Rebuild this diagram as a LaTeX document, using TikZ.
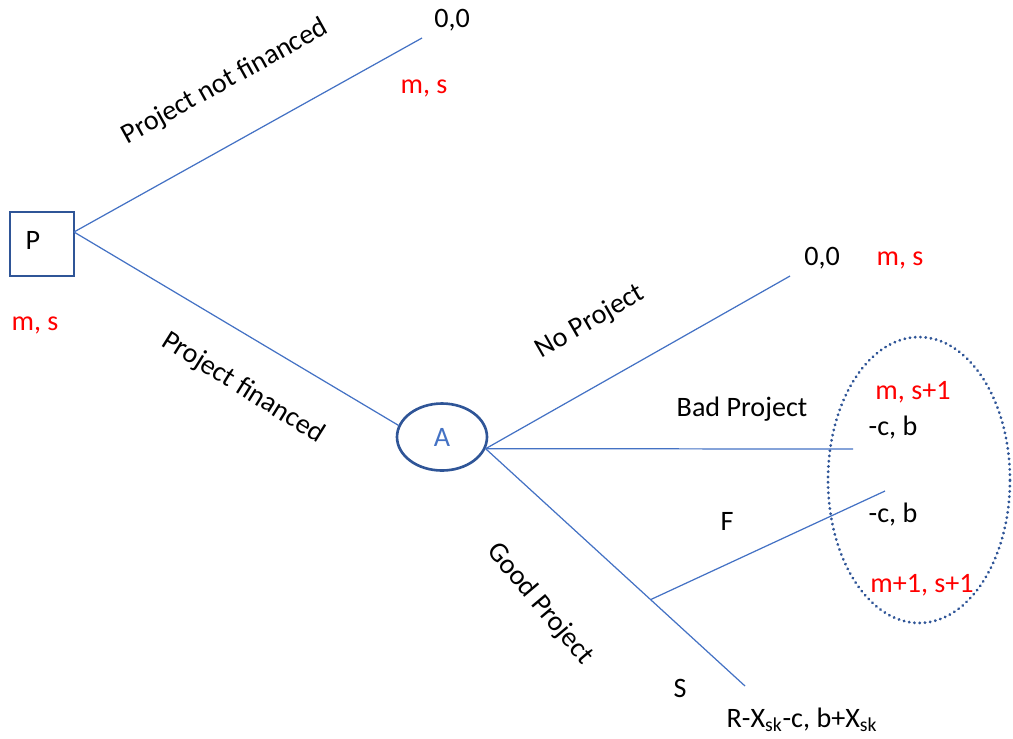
\documentclass[tikz,border=0pt]{standalone}
\usepackage{fontspec}
\setmainfont{Carlito}
\usetikzlibrary{calc,shapes.geometric}
\definecolor{LineClr}{RGB}{68,114,196}
\definecolor{NodeClr}{RGB}{47,85,151}
\definecolor{PayClr}{RGB}{255,0,0}

\tikzset{
  branch/.style={draw=LineClr,line width=0.7pt},
  txt/.style={inner sep=0pt,font=\fontsize{16}{19}\selectfont},
  red txt/.style={txt,text=PayClr},
  pbox/.style={draw=NodeClr,line width=0.8pt,minimum width=1.28cm,minimum height=1.28cm,inner sep=0pt},
  chance/.style={draw=NodeClr,ellipse,line width=1.5pt,minimum width=1.8cm,minimum height=1.34cm,inner sep=0pt,
    text=LineClr,font=\fontsize{16}{19}\selectfont},
  infoset/.style={draw=NodeClr,ellipse,line width=1.7pt,dash pattern=on 0.1pt off 2.9pt,line cap=round,
    minimum width=3.64cm,minimum height=5.72cm,inner sep=0pt}
}

\begin{document}
\begin{tikzpicture}[x=0.02cm,y=-0.02cm]
\useasboundingbox (0,0) rectangle (1013,738);

\node[pbox] (P) at (42,244) {};
\node[txt] (Plbl) at (33,240) {P};
\node[red txt] (Ppay) at (35,325) {m, s};
\coordinate (Ps) at (74,232);

\node[chance] (A) at (442,437) {A};
\node[infoset] (I) at (919,480) {};

\coordinate (NF) at (422,38);
\coordinate (NP) at (790,276);
\coordinate (BP) at (853,449);
\coordinate (GP) at (745,686);
\coordinate (Fend) at (885,491);

\draw[branch] (Ps) -- (NF);
\draw[branch] (Ps) -- (A.165);
\draw[branch] (A.-15) -- (NP);
\draw[branch] (A.-15) -- (BP);
\draw[branch] (A.-15) -- (GP);
\coordinate (Fs) at ($(A.-15)!0.636!(GP)$);
\draw[branch] (Fs) -- (Fend);

\node[txt,rotate=29] (lNF) at (225,82) {Project not financed};
\node[txt,rotate=-32] (lPF) at (243,388) {Project financed};
\node[txt,rotate=30] (lNP) at (590,322) {No Project};
\node[txt] (lBP) at (742,409) {Bad Project};
\node[txt,rotate=-50] (lGP) at (540,604) {Good Project};
\node[txt] (lF) at (727,521) {F};
\node[txt] (lS) at (680,688) {S};

\node[txt] (pNF) at (452,20) {0,0};
\node[red txt] (rNF) at (424,88) {m, s};
\node[txt] (pNP) at (822,258) {0,0};
\node[red txt] (rNP) at (900,260) {m, s};
\node[red txt] (rBP) at (913,392) {m, s+1};
\node[txt] (pBP) at (893,428) {-c, b};
\node[txt] (pF) at (893,515) {-c, b};
\node[red txt] (rF) at (922,585) {m+1, s+1};
\node[txt] (pS) at (802,720) {R-X\textsubscript{sk}-c, b+X\textsubscript{sk}};

\end{tikzpicture}
\end{document}
